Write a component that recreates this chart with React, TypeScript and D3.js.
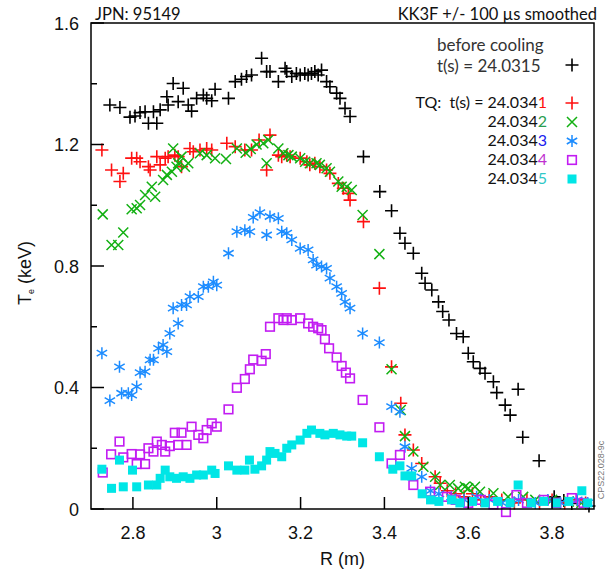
import React from "react";
import * as d3 from "d3";

type P = [number, number];

const yTickLabels = ["0", "0.4", "0.8", "1.2", "1.6"];
const yMajor = [0, 0.4, 0.8, 1.2, 1.6];
const yMinor = [0.2, 0.6, 1.0, 1.4];
const xMajor = [2.8, 3.0, 3.2, 3.4, 3.6, 3.8];
const xTickLabels = ["2.8", "3", "3.2", "3.4", "3.6", "3.8"];

const beforeCooling: P[] = [
  [2.745, 1.33], [2.769, 1.322], [2.793, 1.29], [2.805, 1.294], [2.817, 1.305], [2.829, 1.308], [2.837, 1.27], [2.857, 1.27],
  [2.849, 1.308], [2.865, 1.314], [2.881, 1.357], [2.884, 1.33], [2.896, 1.401], [2.908, 1.341], [2.92, 1.385], [2.932, 1.33],
  [2.94, 1.31], [2.952, 1.352], [2.968, 1.363], [2.976, 1.352], [2.988, 1.344], [2.996, 1.382], [3.028, 1.352], [3.044, 1.407],
  [3.059, 1.415], [3.071, 1.424], [3.083, 1.429], [3.107, 1.484], [3.119, 1.44], [3.127, 1.44], [3.147, 1.407], [3.163, 1.451],
  [3.167, 1.44], [3.179, 1.424], [3.19, 1.434], [3.199, 1.429], [3.21, 1.434], [3.218, 1.429], [3.226, 1.434], [3.234, 1.44],
  [3.242, 1.429], [3.25, 1.445], [3.262, 1.407], [3.27, 1.39], [3.286, 1.369], [3.294, 1.352], [3.306, 1.319], [3.318, 1.292],
  [3.35, 1.16], [3.389, 1.045], [3.417, 0.982], [3.437, 0.908], [3.449, 0.875], [3.469, 0.842], [3.489, 0.776], [3.497, 0.743],
  [3.513, 0.721], [3.529, 0.682], [3.539, 0.65], [3.554, 0.622], [3.572, 0.578], [3.588, 0.567], [3.6, 0.513], [3.612, 0.485],
  [3.628, 0.463], [3.64, 0.447], [3.66, 0.419], [3.668, 0.383], [3.688, 0.342], [3.7, 0.309], [3.719, 0.394], [3.73, 0.236],
  [3.769, 0.159], [3.805, 0.04], [3.828, 0.028], [3.847, 0.018], [3.888, 0.01],
];

const tq1: P[] = [
  [2.726, 1.182], [2.749, 1.116], [2.769, 1.078], [2.777, 1.105], [2.797, 1.155], [2.809, 1.155], [2.817, 1.143], [2.837, 1.127],
  [2.841, 1.116], [2.857, 1.16], [2.865, 1.133], [2.877, 1.155], [2.884, 1.16], [2.9, 1.165], [2.908, 1.16], [2.916, 1.127],
  [2.936, 1.187], [2.944, 1.176], [2.96, 1.182], [2.976, 1.187], [2.988, 1.182], [3.024, 1.204], [3.044, 1.193], [3.067, 1.182],
  [3.083, 1.182], [3.101, 1.215], [3.127, 1.231], [3.119, 1.116], [3.147, 1.165], [3.155, 1.16], [3.167, 1.165], [3.175, 1.16],
  [3.199, 1.155], [3.215, 1.143], [3.222, 1.133], [3.234, 1.138], [3.246, 1.127], [3.262, 1.116], [3.27, 1.105], [3.29, 1.072],
  [3.302, 1.056], [3.314, 1.039], [3.318, 1.017], [3.35, 0.946], [3.388, 0.727], [3.417, 0.468], [3.439, 0.348], [3.449, 0.244],
  [3.469, 0.194], [3.489, 0.15], [3.521, 0.106], [3.533, 0.085], [3.55, 0.06], [3.57, 0.05], [3.59, 0.04], [3.61, 0.05],
  [3.63, 0.03], [3.65, 0.04], [3.68, 0.03], [3.71, 0.02], [3.74, 0.03], [3.77, 0.02], [3.8, 0.03], [3.83, 0.02], [3.86, 0.03], [3.88, 0.02],
];

const tq2: P[] = [
  [2.728, 0.97], [2.749, 0.869], [2.765, 0.869], [2.777, 0.91], [2.797, 0.987], [2.809, 0.99], [2.817, 1.001], [2.829, 1.034],
  [2.845, 1.061], [2.853, 1.028], [2.872, 1.083], [2.881, 1.1], [2.893, 1.11], [2.896, 1.187], [2.904, 1.127], [2.908, 1.138],
  [2.916, 1.16], [2.924, 1.127], [2.932, 1.138], [2.96, 1.171], [2.976, 1.165], [2.996, 1.155], [3.022, 1.152], [3.048, 1.187],
  [3.069, 1.173], [3.081, 1.185], [3.095, 1.2], [3.111, 1.204], [3.123, 1.215], [3.119, 1.138], [3.147, 1.187], [3.159, 1.171],
  [3.171, 1.165], [3.179, 1.16], [3.199, 1.155], [3.211, 1.143], [3.222, 1.138], [3.238, 1.138], [3.246, 1.133], [3.262, 1.122],
  [3.27, 1.11], [3.29, 1.078], [3.298, 1.061], [3.31, 1.061], [3.322, 1.05], [3.348, 0.968], [3.388, 0.839], [3.417, 0.46],
  [3.439, 0.326], [3.449, 0.24], [3.469, 0.189], [3.493, 0.139], [3.521, 0.106], [3.533, 0.079], [3.556, 0.079], [3.576, 0.068],
  [3.592, 0.073], [3.6, 0.068], [3.616, 0.073], [3.628, 0.057], [3.66, 0.052], [3.695, 0.04], [3.731, 0.04], [3.76, 0.03],
  [3.8, 0.03], [3.84, 0.025], [3.87, 0.02],
];

const tq3: P[] = [
  [2.726, 0.513], [2.745, 0.357], [2.768, 0.468], [2.773, 0.381], [2.789, 0.381], [2.797, 0.375], [2.809, 0.403], [2.817, 0.449],
  [2.829, 0.452], [2.841, 0.491], [2.849, 0.491], [2.861, 0.529], [2.872, 0.54], [2.881, 0.518], [2.888, 0.578], [2.908, 0.611],
  [2.896, 0.661], [2.916, 0.672], [2.928, 0.672], [2.936, 0.699], [2.956, 0.699], [2.968, 0.732], [2.98, 0.732], [2.992, 0.748],
  [3.0, 0.737], [3.028, 0.842], [3.048, 0.913], [3.067, 0.918], [3.079, 0.913], [3.087, 0.96], [3.103, 0.976], [3.127, 0.963],
  [3.147, 0.957], [3.119, 0.902], [3.155, 0.913], [3.167, 0.908], [3.179, 0.886], [3.199, 0.858], [3.218, 0.853], [3.23, 0.82],
  [3.238, 0.803], [3.25, 0.798], [3.262, 0.792], [3.27, 0.76], [3.286, 0.732], [3.298, 0.71], [3.306, 0.682], [3.318, 0.661],
  [3.348, 0.578], [3.388, 0.548], [3.417, 0.337], [3.437, 0.32], [3.449, 0.205], [3.465, 0.134], [3.489, 0.106], [3.51, 0.06],
  [3.53, 0.05], [3.56, 0.04], [3.59, 0.03], [3.62, 0.04], [3.65, 0.03], [3.68, 0.02], [3.72, 0.03], [3.76, 0.02], [3.79, 0.03],
  [3.82, 0.02], [3.86, 0.03], [3.885, 0.02],
];

const tq4: P[] = [
  [2.728, 0.12], [2.748, 0.18], [2.768, 0.222], [2.777, 0.17], [2.797, 0.181], [2.817, 0.18], [2.809, 0.148], [2.829, 0.148],
  [2.837, 0.2], [2.857, 0.222], [2.849, 0.189], [2.869, 0.211], [2.877, 0.189], [2.888, 0.207], [2.9, 0.251], [2.916, 0.251],
  [2.908, 0.211], [2.928, 0.211], [2.94, 0.271], [2.956, 0.244], [2.968, 0.233], [2.976, 0.26], [2.988, 0.282], [3.0, 0.271],
  [3.028, 0.328], [3.048, 0.399], [3.067, 0.428], [3.079, 0.46], [3.087, 0.492], [3.107, 0.488], [3.117, 0.51], [3.127, 0.6],
  [3.147, 0.628], [3.159, 0.622], [3.167, 0.628], [3.179, 0.622], [3.199, 0.628], [3.218, 0.611], [3.23, 0.6], [3.242, 0.595],
  [3.25, 0.589], [3.258, 0.559], [3.268, 0.529], [3.286, 0.499], [3.298, 0.471], [3.308, 0.449], [3.318, 0.43], [3.348, 0.359],
  [3.388, 0.269], [3.417, 0.15], [3.437, 0.178], [3.469, 0.079], [3.509, 0.057], [3.549, 0.04], [3.57, 0.03], [3.6, 0.02],
  [3.63, 0.03], [3.66, 0.015], [3.69, -0.01], [3.715, 0.046], [3.74, 0.02], [3.78, 0.03], [3.81, 0.02], [3.847, 0.036], [3.875, 0.02],
];

const tq5: P[] = [
  [2.726, 0.131], [2.749, 0.068], [2.768, 0.161], [2.777, 0.073], [2.799, 0.128], [2.809, 0.073], [2.837, 0.079], [2.857, 0.079],
  [2.865, 0.101], [2.877, 0.128], [2.888, 0.106], [2.904, 0.101], [2.92, 0.106], [2.936, 0.101], [2.952, 0.112], [2.968, 0.112],
  [2.988, 0.128], [2.996, 0.117], [3.028, 0.142], [3.048, 0.128], [3.067, 0.128], [3.078, 0.161], [3.091, 0.131], [3.107, 0.142],
  [3.119, 0.161], [3.127, 0.189], [3.139, 0.183], [3.155, 0.172], [3.167, 0.2], [3.179, 0.211], [3.199, 0.227], [3.215, 0.249],
  [3.226, 0.26], [3.246, 0.249], [3.258, 0.244], [3.278, 0.249], [3.294, 0.244], [3.31, 0.24], [3.322, 0.24], [3.348, 0.218],
  [3.388, 0.172], [3.42, 0.131], [3.437, 0.142], [3.449, 0.109], [3.465, 0.109], [3.49, 0.05], [3.51, 0.03], [3.53, 0.025],
  [3.56, 0.03], [3.58, 0.02], [3.61, 0.025], [3.64, 0.02], [3.67, 0.025], [3.7, 0.02], [3.719, 0.079], [3.75, 0.02],
  [3.78, 0.025], [3.81, 0.02], [3.84, 0.025], [3.871, 0.06], [3.885, 0.02],
];

const legendDigits = ["1", "2", "3", "4", "5"];
const legendPrefix = "24.034";

const C = {
  black: "#000000",
  red: "#ff1010",
  green: "#12b012",
  blue: "#1c8cff",
  magenta: "#c21cf2",
  cyan: "#00e6e6",
};
const digitColors = ["#ff1010", "#2a9d50", "#2020ee", "#c030d0", "#30c8c8"];

const plusPath = (s: number) => `M${-s},0H${s}M0,${-s}V${s}`;
const crossPath = (s: number) => `M${-s},${-s}L${s},${s}M${-s},${s}L${s},${-s}`;
const starPath = (s: number) => {
  const a = s * Math.cos(Math.PI / 6);
  const b = s * Math.sin(Math.PI / 6);
  return `M0,${-s}V${s}M${-a},${-b}L${a},${b}M${-a},${b}L${a},${-b}`;
};

type Kind = "plus" | "cross" | "star" | "square" | "filled";

function Marker({ kind, color, x, y }: { kind: Kind; color: string; x: number; y: number }) {
  const t = `translate(${x},${y})`;
  if (kind === "plus") return <path transform={t} d={plusPath(6.5)} stroke={color} strokeWidth={1.6} fill="none" />;
  if (kind === "cross") return <path transform={t} d={crossPath(5)} stroke={color} strokeWidth={1.5} fill="none" />;
  if (kind === "star") return <path transform={t} d={starPath(6)} stroke={color} strokeWidth={1.5} fill="none" />;
  if (kind === "square")
    return <rect x={x - 4.3} y={y - 4.3} width={8.6} height={8.6} stroke={color} strokeWidth={1.6} fill="none" />;
  return <rect x={x - 4.5} y={y - 4.5} width={9} height={9} fill={color} />;
}

export default function App() {
  const x = d3.scaleLinear().domain([2.7, 3.9]).range([91, 594]);
  const y = d3.scaleLinear().domain([0, 1.6]).range([509, 23]);

  const series: { data: P[]; kind: Kind; color: string }[] = [
    { data: beforeCooling, kind: "plus", color: C.black },
    { data: tq1, kind: "plus", color: C.red },
    { data: tq2, kind: "cross", color: C.green },
    { data: tq3, kind: "star", color: C.blue },
    { data: tq4, kind: "square", color: C.magenta },
    { data: tq5, kind: "filled", color: C.cyan },
  ];

  const axisFont = "'Liberation Sans', Arial, sans-serif";
  const calFont = "Lato, 'Open Sans', sans-serif";
  const legendKinds: Kind[] = ["plus", "cross", "star", "square", "filled"];
  const legendColors = [C.red, C.green, C.blue, C.magenta, C.cyan];

  return (
    <svg width={608} height={572} style={{ position: "absolute", left: 0, top: 0, display: "block" }}>
      <rect width={608} height={572} fill="#fff" />
      {/* titles */}
      <text x={95} y={20} fontFamily={calFont} fontSize={16.5} fill="#111">JPN: 95149</text>
      <text x={597} y={20} fontFamily={calFont} fontSize={16.5} fill="#111" textAnchor="end">KK3F +/- 100 µs smoothed</text>

      {/* data */}
      {series.map((s, i) => (
        <g key={i}>
          {s.data.map((p, j) => (
            <Marker key={j} kind={s.kind} color={s.color} x={x(p[0])} y={y(p[1])} />
          ))}
        </g>
      ))}

      {/* frame */}
      <rect x={x(2.7)} y={y(1.6)} width={x(3.9) - x(2.7)} height={y(0) - y(1.6)} fill="none" stroke="#000" strokeWidth={1.5} />
      {yMajor.map((v, i) => (
        <g key={"ym" + i}>
          <line x1={x(2.7)} x2={x(2.7) + 13} y1={y(v)} y2={y(v)} stroke="#000" strokeWidth={1.5} />
          <text x={79} y={y(v) + 6.5} textAnchor="end" fontFamily={axisFont} fontSize={18} fill="#111">{yTickLabels[i]}</text>
        </g>
      ))}
      {yMinor.map((v, i) => (
        <line key={"yn" + i} x1={x(2.7)} x2={x(2.7) + 6} y1={y(v)} y2={y(v)} stroke="#000" strokeWidth={1.5} />
      ))}
      {xMajor.map((v, i) => (
        <g key={"xm" + i}>
          <line x1={x(v)} x2={x(v)} y1={y(0)} y2={y(0) - 12} stroke="#000" strokeWidth={1.5} />
          <text x={x(v)} y={539} textAnchor="middle" fontFamily={axisFont} fontSize={18} fill="#111">{xTickLabels[i]}</text>
        </g>
      ))}
      <text x={(x(2.7) + x(3.9)) / 2} y={565} textAnchor="middle" fontFamily={axisFont} fontSize={18} fill="#111">R (m)</text>
      <text transform="translate(31,273) rotate(-90)" textAnchor="middle" fontFamily={axisFont} fontSize={18} fill="#111">
        T<tspan fontSize={9} dy={3}>e</tspan><tspan dy={-3}> (keV)</tspan>
      </text>

      {/* legend */}
      <text x={437} y={51} fontFamily={calFont} fontSize={17} fill="#333">before cooling</text>
      <text x={437} y={72} fontFamily={calFont} fontSize={17} fill="#333">t(s) = 24.0315</text>
      <Marker kind="plus" color={C.black} x={572} y={65} />
      <text x={547} y={108} textAnchor="end" fontFamily={calFont} fontSize={16} fill="#111">
        {"TQ:\u00a0\u00a0t(s) = 24.034"}<tspan fill={digitColors[0]}>1</tspan>
      </text>
      {legendDigits.map((d, i) => (
        <g key={"lg" + i}>
          {i > 0 && (
            <text x={547} y={108 + i * 19} textAnchor="end" fontFamily={calFont} fontSize={16} fill="#111">
              {legendPrefix}<tspan fill={digitColors[i]}>{d}</tspan>
            </text>
          )}
          <Marker kind={legendKinds[i]} color={legendColors[i]} x={572} y={103 + i * 19} />
        </g>
      ))}

      <text transform="translate(604,470) rotate(-90)" textAnchor="middle" fontFamily={axisFont} fontSize={9} fill="#777">CPS22.028-9c</text>
    </svg>
  );
}
